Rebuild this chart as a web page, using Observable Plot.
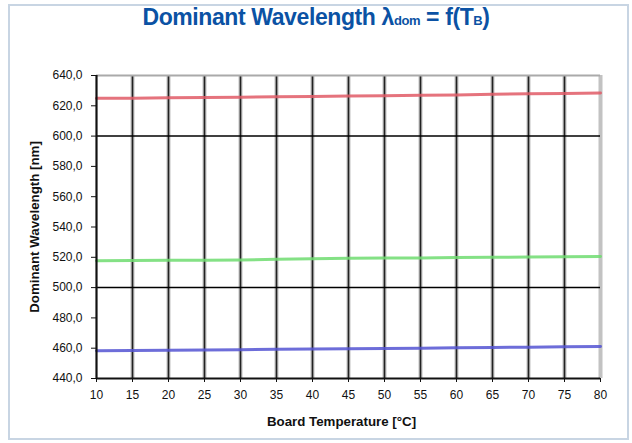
<!DOCTYPE html>
<html><head><meta charset="utf-8">
<script src="https://cdn.jsdelivr.net/npm/d3@7"></script>
<script src="https://cdn.jsdelivr.net/npm/@observablehq/plot@0.6"></script>
<style>
body{margin:0;background:#fff;font-family:"Liberation Sans",Arial,sans-serif;}
#wrap{position:relative;width:632px;height:443px;overflow:hidden;}
#panel{position:absolute;left:8px;top:4px;width:617px;height:432px;border:2px solid #c8d5e3;background:#fff;}
#title{position:absolute;left:0;top:4px;width:632px;text-align:center;font-weight:bold;font-size:23px;color:#0b52a4;letter-spacing:-0.4px;}
#title small{font-size:13px;}
#chart{position:absolute;left:0;top:40px;}
</style></head>
<body><div id="wrap"><div id="panel"></div>
<div id="title">Dominant Wavelength λ<small>dom</small> = f(T<small>B</small>)</div>
<div id="chart"></div></div>
<script>
const temps = [10,15,20,25,30,35,40,45,50,55,60,65,70,75,80];
const red   = [625.0,625.0,625.3,625.5,625.7,626.0,626.2,626.4,626.6,626.9,627.2,627.6,627.9,628.2,628.4];
const green = [517.8,517.9,518.0,518.1,518.2,518.7,519.0,519.3,519.5,519.6,519.8,520.0,520.2,520.4,520.5];
const blue  = [458.3,458.4,458.6,458.8,459.0,459.3,459.5,459.6,459.8,460.0,460.3,460.5,460.7,461.0,461.1];
const yTicks = [440,460,480,500,520,540,560,580,600,620,640];
const xTicks = temps;
const series = [
  {name:"Red LED", values:red, color:"#e05a66"},
  {name:"Green LED", values:green, color:"#6edc70"},
  {name:"Blue LED", values:blue, color:"#5454d2"}
];
const data = series.flatMap(s => temps.map((t,i)=>({t, v:s.values[i], s:s.name})));
const fmt = d => d.toFixed(1).replace(".", ",");
const chart = Plot.plot({
  width:632, height:400,
  marginLeft:96, marginRight:32, marginTop:35, marginBottom:62,
  style:{fontFamily:"'Liberation Sans', Arial, sans-serif", fontSize:"12px", color:"#111", background:"transparent"},
  x:{domain:[10,80]},
  y:{domain:[440,640]},
  color:{domain:series.map(s=>s.name), range:series.map(s=>s.color)},
  marks:[
    Plot.ruleX(temps.slice(1), {stroke:"#999", strokeWidth:4, strokeOpacity:0.6}),
    Plot.ruleX(temps.slice(1,-1), {stroke:"#222", strokeWidth:1.6}),
    Plot.ruleY([640], {stroke:"#aaa", strokeWidth:2}),
    Plot.ruleY([500,600], {stroke:"#000", strokeWidth:1.5}),
    Plot.line(data, {x:"t", y:"v", z:"s", stroke:"s", strokeWidth:3, strokeOpacity:0.85}),
    Plot.ruleX([10], {stroke:"#111", strokeWidth:2.2}),
    Plot.ruleY([440], {stroke:"#111", strokeWidth:2.2}),
    Plot.axisY({ticks:yTicks, tickFormat:fmt, tickSize:5, tickPadding:9, label:"Dominant Wavelength [nm]", labelAnchor:"center", labelArrow:"none", labelOffset:67}),
    Plot.axisX({ticks:xTicks, tickFormat:d=>String(d), tickSize:4, tickPadding:8, label:"Board Temperature [°C]", labelAnchor:"center", labelArrow:"none", labelOffset:47})
  ]
});
chart.querySelectorAll("g[aria-label='y-axis label'] text, g[aria-label='x-axis label'] text").forEach(t=>{t.style.fontWeight="bold"; t.style.fontSize="13.3px";});
const xl = chart.querySelector("g[aria-label='x-axis label']");
if (xl) xl.setAttribute("transform", (xl.getAttribute("transform")||"") + " translate(-7,0)");
document.getElementById("chart").appendChild(chart);
</script></body></html>
